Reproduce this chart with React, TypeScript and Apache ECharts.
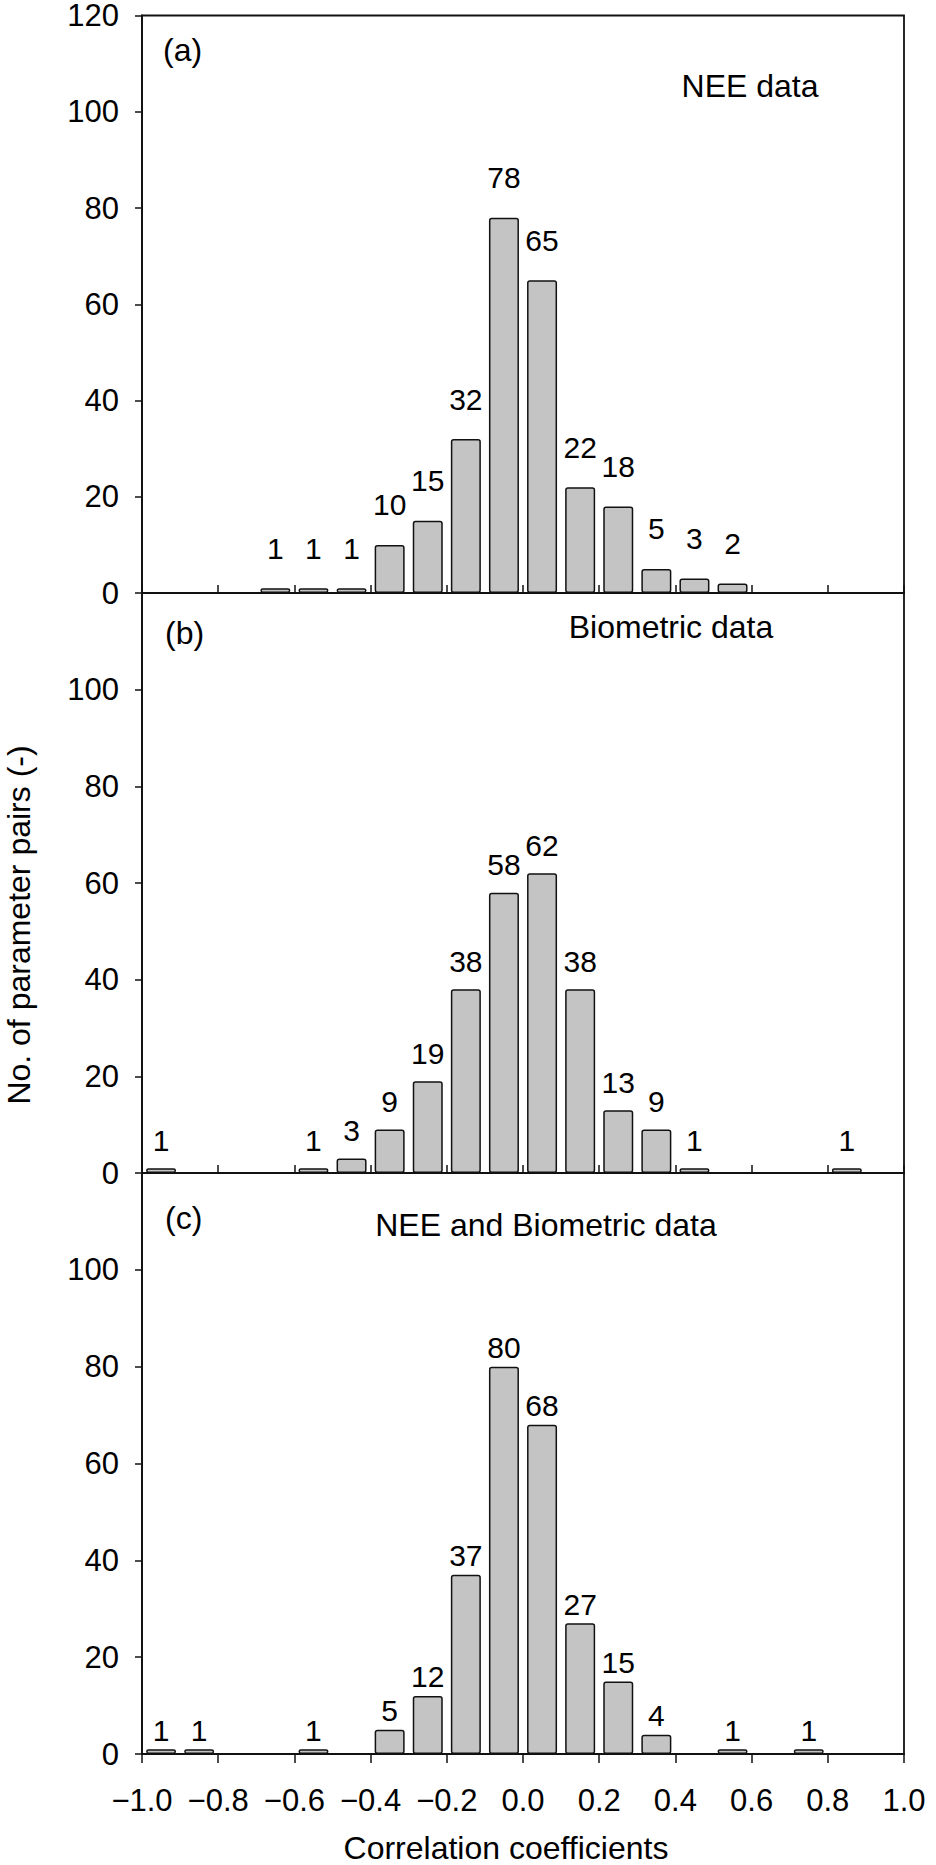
import React, { useEffect, useRef } from "react";
import * as echarts from "echarts";

// ---- data (bin centres of width 0.1, counts) ----
const binsA = [-0.65, -0.55, -0.45, -0.35, -0.25, -0.15, -0.05, 0.05, 0.15, 0.25, 0.35, 0.45, 0.55];
const countsA = [1, 1, 1, 10, 15, 32, 78, 65, 22, 18, 5, 3, 2];

const binsB = [-0.95, -0.55, -0.45, -0.35, -0.25, -0.15, -0.05, 0.05, 0.15, 0.25, 0.35, 0.45, 0.85];
const countsB = [1, 1, 3, 9, 19, 38, 58, 62, 38, 13, 9, 1, 1];

const binsC = [-0.95, -0.85, -0.55, -0.35, -0.25, -0.15, -0.05, 0.05, 0.15, 0.25, 0.35, 0.55, 0.75];
const countsC = [1, 1, 1, 5, 12, 37, 80, 68, 27, 15, 4, 1, 1];

const panelTags = ["(a)", "(b)", "(c)"];
const panelTitles = ["NEE data", "Biometric data", "NEE and Biometric data"];
const xTitle = "Correlation coefficients";
const yTitle = "No. of parameter pairs (-)";

const xMin = -1;
const xMax = 1;
const xStep = 0.2;
const yMin = 0;
const yMax = 120;
const yStep = 20;

const FONT = "'Liberation Sans', Arial, Helvetica, sans-serif";

export default function App() {
  const ref = useRef<HTMLDivElement>(null);

  useEffect(() => {
    document.body.style.margin = "0";
    if (!ref.current) return;
    const chart = echarts.init(ref.current, undefined, { renderer: "svg" });

    const panels = [
      { bins: binsA, counts: countsA, top: 14, height: 579, labelDist: 25 },
      { bins: binsB, counts: countsB, top: 593, height: 580, labelDist: 13 },
      { bins: binsC, counts: countsC, top: 1173, height: 581, labelDist: 4 },
    ];
    const left = 142;
    const width = 762;

    const fmtX = (v: number) => {
      if (Math.abs(v) < 1e-9) return "0.0";
      return (v < 0 ? "\u2212" : "") + Math.abs(v).toFixed(1);
    };

    const txt = (text: string, x: number, y: number, align: string, extra: any = {}) => ({
      type: "text",
      x,
      y,
      ...extra,
      style: { text, fontSize: 32, fontFamily: FONT, fill: "#000", align, verticalAlign: "middle" },
    });

    const option: any = {
      animation: false,
      backgroundColor: "#fff",
      grid: panels.map((p) => ({
        left,
        top: p.top,
        width,
        height: p.height,
        show: true,
        borderColor: "#111",
        borderWidth: 1.8,
        backgroundColor: "transparent",
        containLabel: false,
      })),
      xAxis: panels.map((p, i) => ({
        type: "value",
        gridIndex: i,
        min: xMin,
        max: xMax,
        interval: xStep,
        axisLine: { show: true, onZero: false, lineStyle: { color: "#111", width: 1.8 } },
        axisTick: {
          show: true,
          inside: i < 2,
          length: i < 2 ? 8 : 9,
          lineStyle: { color: "#111", width: 1.5 },
        },
        axisLabel: {
          show: i === 2,
          formatter: fmtX,
          fontSize: 31,
          color: "#000",
          fontFamily: FONT,
          margin: 31,
        },
        splitLine: { show: false },
      })),
      yAxis: panels.map((p, i) => ({
        type: "value",
        gridIndex: i,
        min: yMin,
        max: yMax,
        interval: yStep,
        axisLine: { show: true, onZero: false, lineStyle: { color: "#111", width: 1.8 } },
        axisTick: { show: true, inside: false, length: 7, lineStyle: { color: "#111", width: 1.5 } },
        axisLabel: {
          show: true,
          showMaxLabel: i === 0,
          fontSize: 31,
          lineHeight: 26,
          color: "#000",
          fontFamily: FONT,
          margin: 23,
        },
        splitLine: { show: false },
      })),
      series: panels.map((p, i) => ({
        type: "bar",
        xAxisIndex: i,
        yAxisIndex: i,
        barWidth: 30,
        data: p.bins.map((b, j) => [b, p.counts[j]]),
        itemStyle: { color: "#c4c4c4", borderColor: "#111", borderWidth: 1.5, borderRadius: 2 },
        label: {
          show: true,
          position: "top",
          distance: p.labelDist,
          fontSize: 30,
          color: "#000",
          fontFamily: FONT,
          formatter: (d: any) => String(d.value[1]),
        },
      })),
      graphic: [
        txt(panelTags[0], 163, 50, "left"),
        txt(panelTitles[0], 750, 86, "center"),
        txt(panelTags[1], 165, 633, "left"),
        txt(panelTitles[1], 671, 627, "center"),
        txt(panelTags[2], 165, 1218, "left"),
        txt(panelTitles[2], 546, 1225, "center"),
        txt(xTitle, 506, 1848, "center"),
        txt(yTitle, 19, 925, "center", { rotation: Math.PI / 2 }),
      ],
    };

    chart.setOption(option);
    return () => chart.dispose();
  }, []);

  return <div ref={ref} style={{ width: 936, height: 1865 }} />;
}
